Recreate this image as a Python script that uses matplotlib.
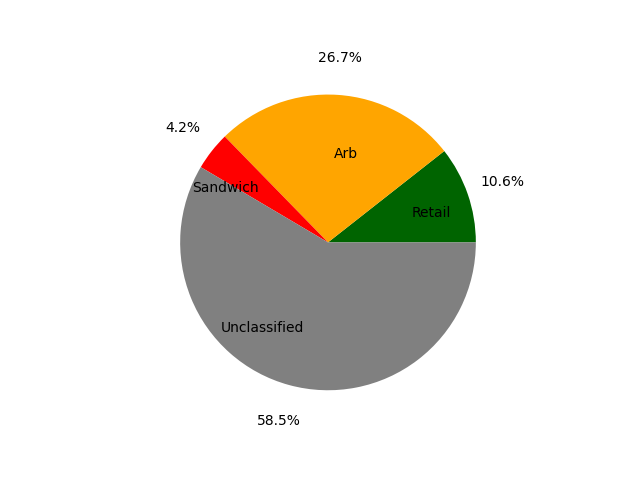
import matplotlib
matplotlib.use('Agg')
import matplotlib.pyplot as plt

categories = ['Retail', 'Arb', 'Sandwich', 'Unclassified']
shares = [10.6, 26.7, 4.2, 58.5]
colors = ['darkgreen', 'orange', 'red', 'gray']


def plot_pie():
    fig, ax = plt.subplots(figsize=(6.4, 4.8), dpi=100)
    ax.pie(shares, labels=categories, colors=colors, autopct='%1.1f%%',
           labeldistance=0.6, pctdistance=1.25)
    plt.savefig('out.png')


if __name__ == '__main__':
    plot_pie()
